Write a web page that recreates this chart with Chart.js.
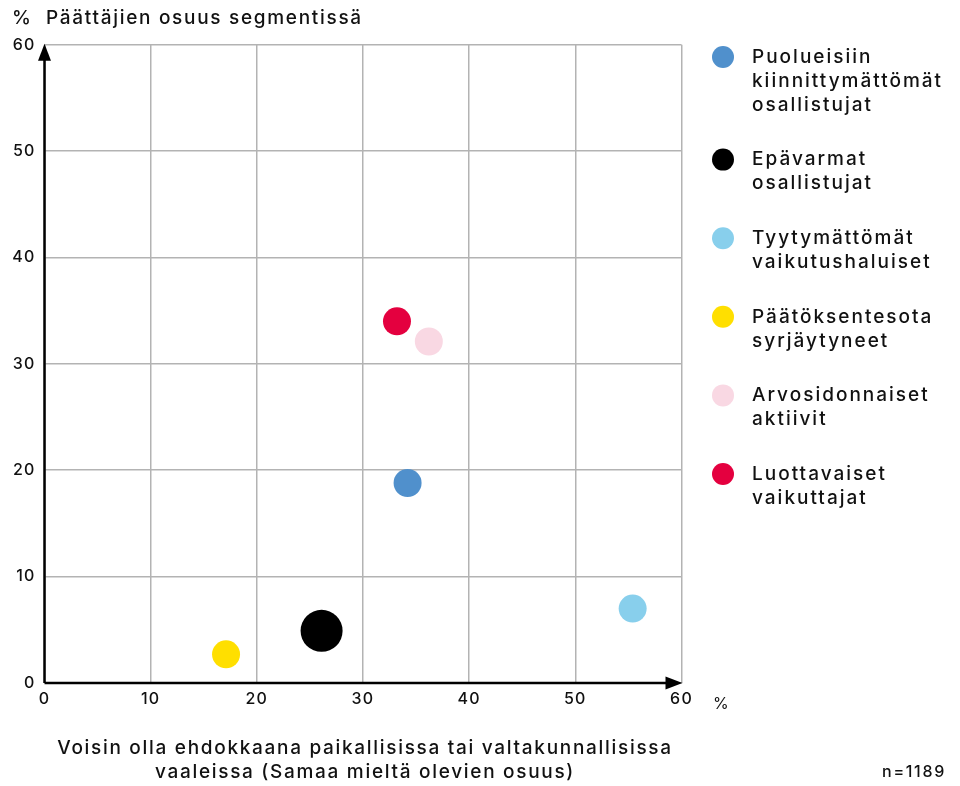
<!DOCTYPE html>
<html>
<head>
<meta charset="utf-8">
<script src="https://cdn.jsdelivr.net/npm/chart.js@4"></script>
<style>
  html, body { margin: 0; padding: 0; background: #fff; }
  #wrap { width: 960px; height: 786px; position: relative; }
</style>
</head>
<body>
<div id="wrap"><canvas id="chart"></canvas></div>
<script>
// Segments and their positions (x = % willing to be a candidate, y = % decision makers)
const segments = [
    ['Puolueisiin', 'kiinnittymättömät', 'osallistujat'],
    ['Epävarmat', 'osallistujat'],
    ['Tyytymättömät', 'vaikutushaluiset'],
    ['Päätöksentesota', 'syrjäytyneet'],
    ['Arvosidonnaiset', 'aktiivit'],
    ['Luottavaiset', 'vaikuttajat'],
];
const xValues = [34.2, 26.1, 55.4, 17.1, 36.2, 33.2];
const yValues = [18.8, 4.9, 7.0, 2.7, 32.1, 34.0];
const segmentColors = ['#5090cc', '#000000', '#88cfec', '#ffdf00', '#f9d8e3', '#e4003f'];
const axisTicks = [0, 10, 20, 30, 40, 50, 60];

const yTitle = 'Päättäjien osuus segmentissä';
const xTitle = ['Voisin olla ehdokkaana paikallisissa tai valtakunnallisissa', 'vaaleissa (Samaa mieltä olevien osuus)'];
const sampleNote = 'n=1189';

const FONT = 'Inter, "Noto Sans", sans-serif';

// Draws arrows, titles and the multi-line legend
const decorPlugin = {
    id: 'decor',
    beforeDraw(chart) {
        // wider tracking for the tick labels too (font in the original is a wide grotesk)
        chart.ctx.letterSpacing = '1.2px';
    },
    beforeDatasetsDraw(chart) {
        const { ctx, chartArea: a } = chart;
        ctx.save();
        ctx.strokeStyle = '#000';
        ctx.fillStyle = '#000';
        ctx.lineWidth = 2.5;
        ctx.beginPath();
        ctx.moveTo(a.left, a.bottom);
        ctx.lineTo(a.right - 12, a.bottom);
        ctx.moveTo(a.left, a.bottom);
        ctx.lineTo(a.left, a.top + 12);
        ctx.stroke();
        // arrow heads
        ctx.beginPath();
        ctx.moveTo(a.right + 1, a.bottom);
        ctx.lineTo(a.right - 16, a.bottom - 6.5);
        ctx.lineTo(a.right - 16, a.bottom + 6.5);
        ctx.closePath();
        ctx.fill();
        ctx.beginPath();
        ctx.moveTo(a.left, a.top - 1);
        ctx.lineTo(a.left - 6.5, a.top + 16);
        ctx.lineTo(a.left + 6.5, a.top + 16);
        ctx.closePath();
        ctx.fill();
        ctx.restore();
    },
    afterDraw(chart) {
        const { ctx } = chart;
        ctx.save();
        ctx.fillStyle = '#111';
        ctx.textBaseline = 'middle';
        ctx.letterSpacing = '1.7px';

        // y axis title
        ctx.font = '500 19px ' + FONT;
        ctx.textAlign = 'left';
        ctx.fillText('%', 12, 18);
        ctx.fillText(yTitle, 46, 18);

        // x axis unit
        ctx.font = '400 16px ' + FONT;
        ctx.fillText('%', 713, 704);

        // x axis title
        ctx.font = '500 19px ' + FONT;
        ctx.textAlign = 'center';
        xTitle.forEach((line, i) => ctx.fillText(line, 365, 748 + i * 24));

        ctx.font = '500 16px ' + FONT;
        ctx.textAlign = 'right';
        ctx.fillText(sampleNote, 946, 772);

        // legend
        ctx.textAlign = 'left';
        ctx.font = '500 19px ' + FONT;
        ctx.letterSpacing = '2px';
        let y = 57;
        segments.forEach((lines, i) => {
            ctx.fillStyle = segmentColors[i];
            ctx.beginPath();
            ctx.arc(723, y, 11, 0, Math.PI * 2);
            ctx.fill();
            ctx.fillStyle = '#111';
            lines.forEach((line, j) => ctx.fillText(line, 752, y + j * 24));
            y += lines.length * 24 + 30.6;
        });
        ctx.restore();
    },
};

new Chart(document.getElementById('chart'), {
    type: 'scatter',
    data: {
        datasets: segments.map((lines, i) => ({
            label: lines.join(' '),
            data: [{ x: xValues[i], y: yValues[i] }],
            backgroundColor: segmentColors[i],
            borderWidth: 0,
            pointRadius: i === 1 ? 21 : 14,
            pointHoverRadius: i === 1 ? 21 : 14,
        })),
    },
    options: {
        responsive: true,
        maintainAspectRatio: false,
        animation: false,
        layout: { padding: { left: 0, top: 44.7, right: 278.5, bottom: 63 } },
        plugins: {
            legend: { display: false },
            tooltip: { enabled: false },
        },
        scales: {
            x: {
                type: 'linear',
                min: 0,
                max: 60,
                afterFit: (s) => { s.height = 40; },
                afterBuildTicks: (s) => { s.ticks = axisTicks.map(v => ({ value: v })); },
                ticks: { color: '#111', font: { family: FONT, size: 16, weight: '500' }, padding: 7 },
                grid: { color: '#b3b3b3', lineWidth: 1.5, drawTicks: false },
                border: { display: false },
            },
            y: {
                type: 'linear',
                min: 0,
                max: 60,
                afterFit: (s) => { s.width = 44.5; },
                afterBuildTicks: (s) => { s.ticks = axisTicks.map(v => ({ value: v })); },
                ticks: { color: '#111', font: { family: FONT, size: 16, weight: '500' }, padding: 9 },
                grid: { color: '#b3b3b3', lineWidth: 1.5, drawTicks: false },
                border: { display: false },
            },
        },
    },
    plugins: [decorPlugin],
});
</script>
</body>
</html>
